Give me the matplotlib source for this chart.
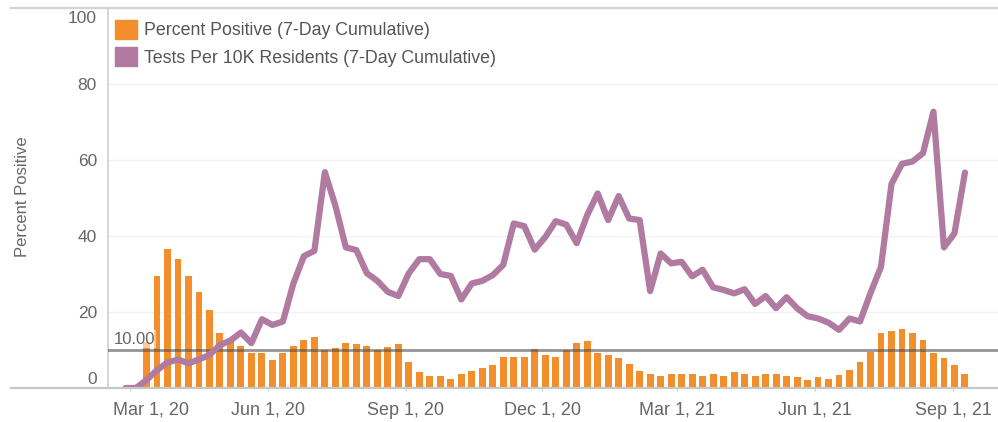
import matplotlib as mpl

mpl.use("Agg")
import matplotlib.pyplot as plt
import matplotlib.dates as mdates
import matplotlib.transforms as mtransforms
from matplotlib.lines import Line2D
from matplotlib.patches import Patch
import pandas as pd

plt.rcParams["font.family"] = ["Liberation Sans", "DejaVu Sans"]

# weekly values
tests_per_10k = [
    0, 0, 2.1, 4.7, 6.7, 7.5, 6.5, 7.5, 8.7, 11.3, 12.5, 14.6, 11.8, 18.1, 16.6,
    17.5, 27.5, 34.7, 36.1, 56.8, 48.0, 37.0, 36.3, 30.2, 28.2, 25.3, 24.2, 30.2,
    33.9, 33.9, 30.0, 29.5, 23.3, 27.5, 28.2, 29.7, 32.4, 43.3, 42.6, 36.4, 39.7,
    43.9, 43.0, 38.1, 45.5, 51.2, 44.2, 50.5, 44.6, 44.2, 25.5, 35.4, 32.8, 33.2,
    29.4, 31.1, 26.5, 25.8, 24.9, 26.0, 22.1, 24.2, 21.0, 23.9, 21.0, 18.9, 18.3,
    17.2, 15.3, 18.3, 17.5, 25.0, 31.9, 53.7, 59.0, 59.6, 61.8, 72.7, 37.0, 40.7,
    56.7,
]
pct_positive = [
    12.0, 29.5, 36.5, 33.9, 29.5, 25.3, 20.5, 14.4, 12.2, 11.1, 9.1, 9.1, 7.5,
    9.1, 11.1, 12.6, 13.5, 10.0, 10.4, 11.9, 11.6, 11.1, 10.0, 10.7, 11.6, 6.8,
    4.3, 3.2, 3.2, 2.5, 3.6, 4.5, 5.2, 6.0, 8.2, 8.2, 8.2, 10.2, 8.7, 8.2, 10.0,
    11.9, 12.4, 9.1, 8.7, 7.8, 6.3, 4.6, 3.6, 3.2, 3.6, 3.6, 3.6, 3.2, 3.7, 3.2,
    4.3, 3.8, 3.2, 3.6, 3.6, 3.2, 2.8, 2.1, 2.8, 2.5, 3.3, 4.7, 6.8, 9.4, 14.6,
    15.1, 15.4, 14.6, 12.6, 9.1, 8.0, 6.0, 3.7,
]
first_week = "2020-02-27"
threshold = 10
tick_dates = ["2020-03-01", "2020-06-01", "2020-09-01", "2020-12-01",
              "2021-03-01", "2021-06-01", "2021-09-01"]
tick_labels = ["Mar 1, 20", "Jun 1, 20", "Sep 1, 20", "Dec 1, 20",
               "Mar 1, 21", "Jun 1, 21", "Sep 1, 21"]
legend_labels = ["Percent Positive (7-Day Cumulative)",
                 "Tests Per 10K Residents (7-Day Cumulative)"]

ORANGE = "#F28E2B"
PURPLE = "#B07AA1"
GREY = "#666666"

line_dates = pd.date_range(first_week, periods=len(tests_per_10k), freq="7D")
bar_dates = line_dates[len(tests_per_10k) - len(pct_positive):]

W, H = 998, 422
fig = plt.figure(figsize=(W / 100, H / 100), dpi=100)
ax = fig.add_axes([108 / W, 1 - 388 / H, 1 - 108 / W, 380 / H])

ax.bar(bar_dates, pct_positive, width=4.6, color=ORANGE, zorder=2)
ax.axhline(threshold, color="#4d4d4d", alpha=0.6, lw=2, zorder=3)
ax.plot(line_dates, tests_per_10k, color=PURPLE, lw=4.5,
        solid_joinstyle="round", solid_capstyle="round", zorder=4)

ax.text(0.006, threshold + 0.9, f"{threshold:.2f}", fontsize=12, color=GREY,
        transform=mtransforms.blended_transform_factory(ax.transAxes, ax.transData),
        va="bottom", ha="left", zorder=5,
        bbox=dict(facecolor="white", alpha=0.55, edgecolor="none", pad=1))

# x scale: Mar 1, 20 sits at 130 px, 1.499 px per day
x0 = mdates.date2num(pd.Timestamp("2020-03-01"))
ppd = 1.499
ax.set_xlim(x0 - 22 / ppd, x0 + (W - 130) / ppd)
ax.set_ylim(0, 100)
ax.set_yticks([0, 20, 40, 60, 80, 100])
ax.set_xticks(pd.to_datetime(tick_dates))
ax.set_xticklabels(tick_labels)

ax.tick_params(axis="x", length=2, color="#d0d0d0", pad=8, labelsize=13,
               labelcolor=GREY)
ax.tick_params(axis="y", length=0, pad=8, labelsize=12.5, labelcolor=GREY)

# keep the end labels inside the pane, like the original
yticks = ax.yaxis.get_major_ticks()
for tick, dy in ((yticks[0], 10), (yticks[-1], -9)):
    tick.label1.set_transform(tick.label1.get_transform()
                              + mtransforms.ScaledTranslation(0, dy / 100, fig.dpi_scale_trans))
xt = ax.xaxis.get_major_ticks()[0]
xt.label1.set_transform(xt.label1.get_transform()
                        + mtransforms.ScaledTranslation(21 / 100, 0, fig.dpi_scale_trans))

ax.yaxis.grid(True, color="#f2f2f2", lw=1)
ax.set_axisbelow(True)
for s in ("top", "right", "bottom"):
    ax.spines[s].set_visible(False)
ax.spines["left"].set_color("#d0d0d0")
ax.spines["left"].set_linewidth(1.2)

ax.set_ylabel("Percent Positive", fontsize=12, color=GREY)
ax.yaxis.set_label_coords(-78 / 890, 0.503)

fig.add_artist(Line2D([11 / W, 1], [1 - 8 / H] * 2, color="#d3d3d3", lw=1.6))
fig.add_artist(Line2D([11 / W, 1], [1 - 388 / H] * 2, color="#c6c6c6", lw=1.6))

handles = [Patch(color=ORANGE), Patch(color=PURPLE)]
leg = ax.legend(handles, legend_labels, loc="upper left",
                bbox_to_anchor=(115 / W, 1 - 20 / H), bbox_transform=fig.transFigure,
                frameon=False, fontsize=12.8, handlelength=1.25, handleheight=1.25,
                handletextpad=0.4, labelspacing=0.45, borderpad=0, borderaxespad=0)
for t in leg.get_texts():
    t.set_color("#555555")

fig.savefig("out.png", dpi=100)
